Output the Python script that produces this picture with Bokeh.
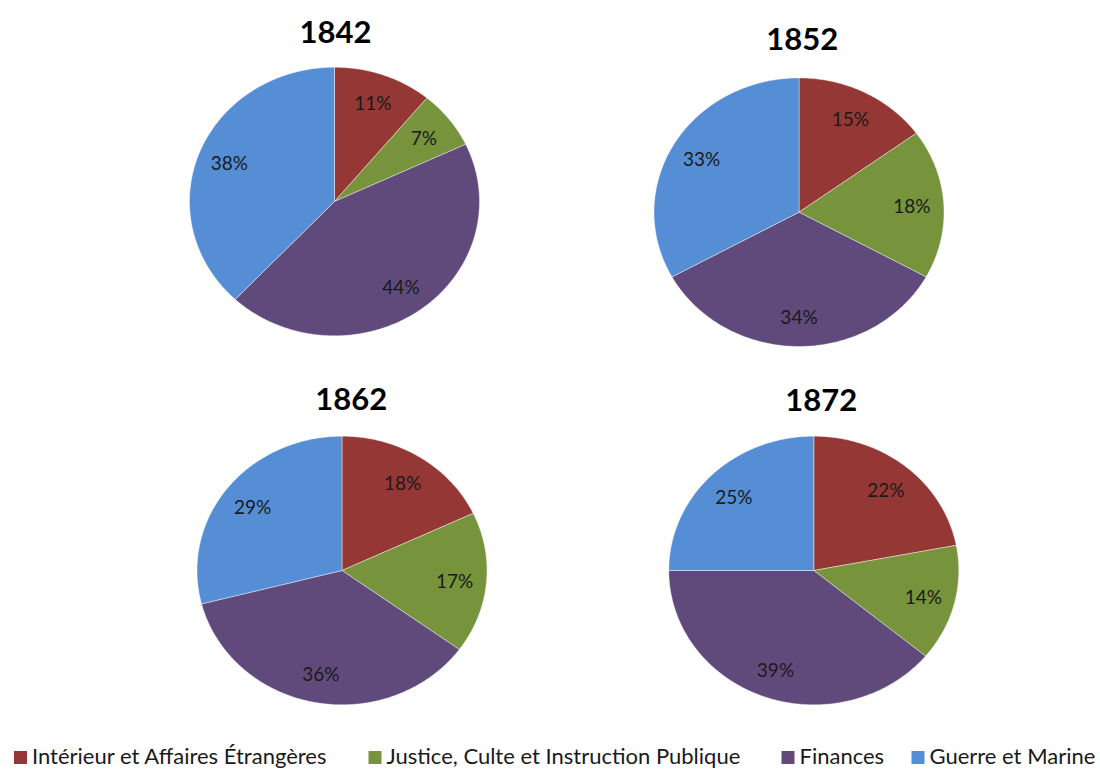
import numpy as np
from bokeh.plotting import figure
from bokeh.models import Range1d
from bokeh.embed import file_html
from bokeh.resources import INLINE
from bokeh.core.properties import value

# ---------------- data ----------------
years = ["1842", "1852", "1862", "1872"]
categories = [
    "Intérieur et Affaires Étrangères",
    "Justice, Culte et Instruction Publique",
    "Finances",
    "Guerre et Marine",
]
share_1842 = [11, 7, 44, 38]
share_1852 = [15, 18, 34, 33]
share_1862 = [18, 17, 36, 29]
share_1872 = [22, 14, 39, 25]
shares = {"1842": share_1842, "1852": share_1852, "1862": share_1862, "1872": share_1872}

# ---------------- style / layout ----------------
colors = ["#953735", "#77933C", "#604A7B", "#558ED5"]
W, H = 1100, 773
RX, RY = 145.0, 134.3          # pies are slightly flattened ellipses
LABEL_K = 0.78                 # label distance as a fraction of the radius
FONT = "Lato"
TEXT_COLOR = "#1a1a1a"


def page_to_data(sx, sy):
    """convert page pixel position (y down) to data coordinates (y up)"""
    return sx, H - sy


pie_centers = {"1842": (334, 201), "1852": (798.5, 211.7),
               "1862": (341.5, 570), "1872": (813.3, 570)}
title_centers = {"1842": (335, 31.7), "1852": (801.7, 38.3),
                 "1862": (350.7, 398.3), "1872": (820.7, 399.3)}
legend_square_x = [13.5, 368, 781, 911]   # left edge of each legend square (page px)
legend_text_gap = 18
legend_y = 755
legend_square = 13

p = figure(width=W, height=H, x_range=Range1d(0, W), y_range=Range1d(0, H),
           output_backend="svg", toolbar_location=None, min_border=0,
           x_axis_type=None, y_axis_type=None)
p.grid.visible = False
p.outline_line_color = None
p.background_fill_color = "white"
p.border_fill_color = "white"

for yr in years:
    vals = np.array(shares[yr], dtype=float)
    frac = vals / vals.sum()
    cum = np.concatenate([[0], np.cumsum(frac)])
    cx, cy = page_to_data(*pie_centers[yr])
    xs, ys, lx, ly, lt = [], [], [], [], []
    for i in range(len(vals)):
        t0, t1 = cum[i] * 2 * np.pi, cum[i + 1] * 2 * np.pi
        n = max(int(np.degrees(t1 - t0)) + 2, 3)
        th = np.linspace(t0, t1, n)
        xs.append(list(np.concatenate([[cx], cx + RX * np.sin(th)])))
        ys.append(list(np.concatenate([[cy], cy + RY * np.cos(th)])))
        tm = (t0 + t1) / 2
        lx.append(cx + LABEL_K * RX * np.sin(tm))
        ly.append(cy + LABEL_K * RY * np.cos(tm))
        lt.append(f"{int(vals[i])}%")
    p.patches(xs, ys, fill_color=colors, line_color="white", line_width=0.6, line_alpha=0.7)
    p.text(lx, ly, text=lt, text_align="center", text_baseline="middle",
           text_font=value(FONT), text_font_size="19px", text_color=TEXT_COLOR)
    tx, ty = page_to_data(*title_centers[yr])
    p.text([tx], [ty], text=[yr], text_align="center", text_baseline="middle",
           text_font=value(FONT), text_font_size="31px", text_font_style="bold",
           text_color="black")

# legend
sq_x = [x + legend_square / 2 for x in legend_square_x]
sq_y = [page_to_data(0, legend_y + 2)[1]] * len(categories)
txt_y = [page_to_data(0, legend_y)[1]] * len(categories)
p.rect(sq_x, sq_y, width=legend_square, height=legend_square, fill_color=colors,
       line_color=None)
txt_x = [x + legend_text_gap for x in legend_square_x]
p.text(txt_x, txt_y, text=categories, text_align="left", text_baseline="middle",
       text_font=value(FONT), text_font_size="22px", text_color=TEXT_COLOR)

open("out.html", "w").write(file_html(p, INLINE))
